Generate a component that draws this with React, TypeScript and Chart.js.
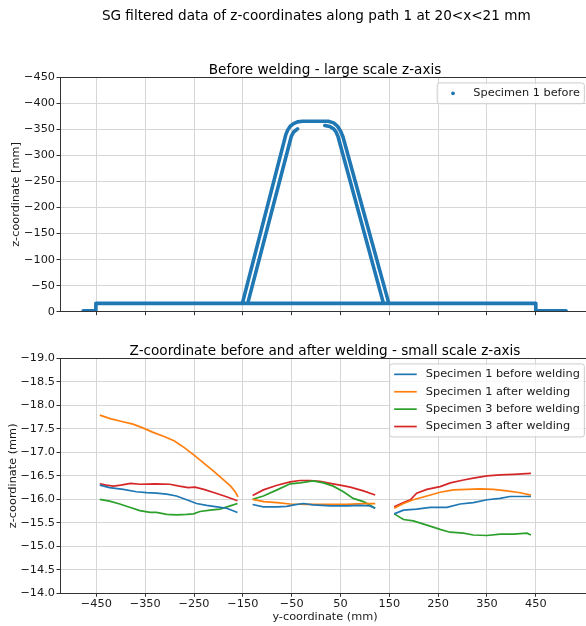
import React, { useEffect, useRef } from 'react';
import { Chart, registerables } from 'chart.js';

Chart.register(...registerables);

type Pt = [number, number];

// ---------------- shared axis values ----------------
const X_MIN = -524.5;
const X_MAX = 561;
const xTickValues = [-450, -350, -250, -150, -50, 50, 150, 250, 350, 450];
const topYMin = -450;
const topYMax = 0;
const topYStep = 50;
const botYMin = -19;
const botYMax = -14;
const botYStep = 0.5;

// ---------------- top plot: Specimen 1 before (large scale) ----------------
const topBaseline: Pt[] = [[-477, -1.9], [-451, -1.9], [-451, -16], [450, -16], [450, -1.9], [512, -1.9]];
const topOuterTrack: Pt[] = [
  [-151, -16], [-62, -340], [-58, -349], [-53, -356], [-46, -361], [-38, -364.5], [-28, -365.5],
  [25, -365.5], [36, -362.5], [44, -356], [50, -347], [55, -336], [149, -16],
];
const topInnerLeft: Pt[] = [[-140, -16], [-51, -336], [-46, -345], [-38, -351]];
const topInnerRight: Pt[] = [[18, -357.5], [28, -355.5], [36, -351], [41, -345], [45, -336], [138, -16]];

// ---------------- bottom plot (small scale) ----------------
const spec1BeforeSeg1: Pt[] = [[-443, -16.30], [-423, -16.25], [-395, -16.21], [-368, -16.16], [-347, -16.14], [-327, -16.13], [-306, -16.11], [-286, -16.07], [-265, -15.99], [-245, -15.91], [-224, -15.87], [-203, -15.84], [-183, -15.81], [-161, -15.72]];
const spec1BeforeSeg2: Pt[] = [[-130, -15.89], [-108, -15.84], [-80, -15.84], [-60, -15.85], [-45, -15.88], [-26, -15.91], [-6, -15.88], [29, -15.86], [63, -15.86], [90, -15.87], [110, -15.86], [121, -15.81]];
const spec1BeforeSeg3: Pt[] = [[160, -15.69], [179, -15.77], [206, -15.79], [234, -15.83], [268, -15.83], [295, -15.90], [322, -15.93], [350, -15.99], [377, -16.02], [397, -16.06], [440, -16.06]];

const spec1AfterSeg1: Pt[] = [[-443, -17.79], [-420, -17.71], [-400, -17.66], [-375, -17.60], [-355, -17.52], [-335, -17.43], [-310, -17.33], [-290, -17.24], [-270, -17.10], [-250, -16.94], [-230, -16.77], [-210, -16.60], [-190, -16.42], [-175, -16.28], [-165, -16.15], [-160, -16.05]];
const spec1AfterSeg2: Pt[] = [[-130, -16.00], [-107, -15.95], [-80, -15.93], [-53, -15.90], [-19, -15.89], [29, -15.89], [63, -15.89], [97, -15.91], [121, -15.91]];
const spec1AfterSeg3: Pt[] = [[160, -15.81], [179, -15.91], [199, -15.99], [227, -16.07], [254, -16.15], [281, -16.20], [309, -16.21], [336, -16.22], [363, -16.21], [391, -16.18], [418, -16.14], [440, -16.09]];

const spec3BeforeSeg1: Pt[] = [[-443, -16.00], [-423, -15.96], [-402, -15.90], [-382, -15.83], [-361, -15.76], [-340, -15.72], [-327, -15.72], [-306, -15.68], [-286, -15.67], [-265, -15.68], [-251, -15.69], [-238, -15.74], [-217, -15.77], [-197, -15.79], [-176, -15.86], [-161, -15.91]];
const spec3BeforeSeg2: Pt[] = [[-130, -16.00], [-108, -16.07], [-80, -16.20], [-53, -16.33], [-33, -16.35], [-6, -16.39], [15, -16.35], [35, -16.28], [56, -16.16], [76, -16.02], [97, -15.95], [110, -15.88], [121, -15.81]];
const spec3BeforeSeg3: Pt[] = [[160, -15.69], [179, -15.57], [199, -15.54], [227, -15.45], [254, -15.36], [274, -15.30], [302, -15.28], [322, -15.24], [350, -15.23], [377, -15.26], [404, -15.26], [432, -15.28], [440, -15.24]];

const spec3AfterSeg1: Pt[] = [[-443, -16.33], [-430, -16.30], [-415, -16.28], [-400, -16.30], [-380, -16.34], [-360, -16.32], [-330, -16.33], [-300, -16.32], [-280, -16.28], [-262, -16.25], [-248, -16.26], [-230, -16.21], [-205, -16.13], [-185, -16.06], [-161, -15.97]];
const spec3AfterSeg2: Pt[] = [[-130, -16.08], [-108, -16.20], [-80, -16.30], [-53, -16.37], [-33, -16.40], [-12, -16.40], [8, -16.38], [29, -16.34], [49, -16.30], [70, -16.26], [97, -16.18], [121, -16.09]];
const spec3AfterSeg3: Pt[] = [[160, -15.84], [179, -15.93], [193, -15.99], [206, -16.13], [227, -16.21], [254, -16.27], [275, -16.35], [302, -16.41], [322, -16.45], [350, -16.50], [377, -16.52], [404, -16.53], [440, -16.55]];

const seriesLabels = ['Specimen 1 before welding', 'Specimen 1 after welding', 'Specimen 3 before welding', 'Specimen 3 after welding'];
const seriesColors = ['#1f77b4', '#ff7f0e', '#2ca02c', '#d62728'];

// ---------------- styling ----------------
const FAMILY = '"DejaVu Sans", sans-serif';
const TICK_SIZE = 11.3;
const TITLE_SIZE = 13.6;
const GRID = '#d6d6d6';
const SPINE = '#333333';
const TEXT = '#1a1a1a';

const fmtMinus = (s: string) => s.replace('-', '\u2212');

function toData(segs: Pt[][]) {
  const out: { x: number | null; y: number | null }[] = [];
  segs.forEach((s, i) => {
    if (i > 0) out.push({ x: null, y: null });
    s.forEach(([x, y]) => out.push({ x, y }));
  });
  return out;
}

type LegendItem = { label: string; color: string; kind: 'line' | 'dot' };

function makeDecor(key: string, title: string, legend: LegendItem[], suptitle?: string) {
  return {
    id: 'decor_' + key,
    afterDraw(chart: any) {
      const { ctx, chartArea: a } = chart;
      ctx.save();
      // spines
      ctx.strokeStyle = SPINE;
      ctx.lineWidth = 1;
      const l = Math.floor(a.left) + 0.5;
      const t = Math.floor(a.top) + 0.5;
      const r = Math.floor(a.right) + 0.5;
      const b = Math.floor(a.bottom) + 0.5;
      ctx.strokeRect(l, t, r - l, b - t);

      // titles
      ctx.fillStyle = '#000';
      ctx.textAlign = 'center';
      ctx.textBaseline = 'alphabetic';
      ctx.font = `${TITLE_SIZE}px ${FAMILY}`;
      ctx.fillText(title, (a.left + a.right) / 2, a.top - 3.4);
      if (suptitle) ctx.fillText(suptitle, 316.3, 20.3);

      // legend
      const fs = TICK_SIZE;
      ctx.font = `${fs}px ${FAMILY}`;
      const pad = 0.4 * fs;
      const handle = 2 * fs;
      const htp = 0.8 * fs;
      const rowH = 11.75;
      const spacing = 0.5 * fs;
      const textW = Math.max(...legend.map((it) => ctx.measureText(it.label).width));
      const w = pad + handle + htp + textW + pad;
      const h = 2 * pad + legend.length * rowH + (legend.length - 1) * spacing;
      const right = a.right - 0.5 * fs;
      const left = right - w;
      const top = a.top + 0.5 * fs;
      ctx.beginPath();
      const rad = 2.5;
      ctx.moveTo(left + rad, top);
      ctx.lineTo(left + w - rad, top);
      ctx.arcTo(left + w, top, left + w, top + rad, rad);
      ctx.lineTo(left + w, top + h - rad);
      ctx.arcTo(left + w, top + h, left + w - rad, top + h, rad);
      ctx.lineTo(left + rad, top + h);
      ctx.arcTo(left, top + h, left, top + h - rad, rad);
      ctx.lineTo(left, top + rad);
      ctx.arcTo(left, top, left + rad, top, rad);
      ctx.closePath();
      ctx.fillStyle = 'rgba(255,255,255,0.8)';
      ctx.fill();
      ctx.strokeStyle = '#cccccc';
      ctx.lineWidth = 1;
      ctx.stroke();

      legend.forEach((it, i) => {
        const cy = top + pad + rowH / 2 + i * (rowH + spacing);
        const hx = left + pad;
        if (it.kind === 'line') {
          ctx.strokeStyle = it.color;
          ctx.lineWidth = 1.7;
          ctx.beginPath();
          ctx.moveTo(hx, cy);
          ctx.lineTo(hx + handle, cy);
          ctx.stroke();
        } else {
          ctx.fillStyle = it.color;
          ctx.beginPath();
          ctx.arc(hx + handle / 2, cy, 1.9, 0, Math.PI * 2);
          ctx.fill();
        }
        ctx.fillStyle = TEXT;
        ctx.textAlign = 'left';
        ctx.textBaseline = 'middle';
        ctx.fillText(it.label, hx + handle + htp, cy);
      });
      ctx.restore();
    },
  };
}

const tickFont = { family: FAMILY, size: TICK_SIZE };

function xScale(showLabels: boolean, height: number, titleText?: string) {
  return {
    type: 'linear',
    min: X_MIN,
    max: X_MAX,
    afterBuildTicks: (s: any) => {
      s.ticks = xTickValues.map((v) => ({ value: v }));
    },
    afterFit: (s: any) => {
      s.height = height;
    },
    ticks: {
      display: showLabels,
      autoSkip: false,
      maxRotation: 0,
      minRotation: 0,
      font: tickFont,
      color: TEXT,
      padding: 0,
      callback: (v: number) => fmtMinus(String(v)),
    },
    grid: { color: GRID, lineWidth: 1, tickColor: SPINE, tickLength: 3.5, drawTicks: true },
    border: { display: false },
    title: titleText
      ? { display: true, text: titleText, font: tickFont, color: TEXT, padding: { top: 0, bottom: 2 } }
      : { display: false },
  };
}

function yScale(min: number, max: number, step: number, digits: number, titleText: string, titlePad: number) {
  return {
    type: 'linear',
    reverse: true,
    min,
    max,
    afterFit: (s: any) => {
      s.width = 60;
    },
    ticks: {
      stepSize: step,
      autoSkip: false,
      font: tickFont,
      color: TEXT,
      padding: 1.5,
      callback: (v: number) => fmtMinus(v === 0 ? '0' : v.toFixed(digits)),
    },
    grid: { color: GRID, lineWidth: 1, tickColor: SPINE, tickLength: 3.5, drawTicks: true },
    border: { display: false },
    title: { display: true, text: titleText, font: tickFont, color: TEXT, padding: { top: titlePad, bottom: 0 } },
  };
}

export default function App() {
  const topRef = useRef<HTMLCanvasElement>(null);
  const botRef = useRef<HTMLCanvasElement>(null);

  useEffect(() => {
    const common = {
      responsive: false,
      animation: false,
      events: [],
    };

    const topChart = new Chart(topRef.current as HTMLCanvasElement, {
      type: 'scatter',
      data: {
        datasets: [
          {
            label: 'Specimen 1 before',
            data: toData([topBaseline, topOuterTrack, topInnerLeft, topInnerRight]),
            showLine: true,
            borderColor: '#1f77b4',
            backgroundColor: '#1f77b4',
            borderWidth: 3.6,
            borderCapStyle: 'round',
            borderJoinStyle: 'round',
            pointRadius: 0,
            pointHoverRadius: 0,
            spanGaps: false,
          },
        ],
      },
      options: {
        ...common,
        layout: { padding: { top: 77.3, left: 0, right: 10, bottom: 0 } },
        plugins: { legend: { display: false }, title: { display: false }, tooltip: { enabled: false } },
        scales: {
          x: xScale(false, 18.3),
          y: yScale(topYMin, topYMax, topYStep, 0, 'z-coordinate [mm]', 9.7),
        },
      } as any,
      plugins: [
        makeDecor(
          'top',
          'Before welding - large scale z-axis',
          [{ label: 'Specimen 1 before', color: '#1f77b4', kind: 'dot' }],
          'SG filtered data of z-coordinates along path 1 at 20<x<21 mm'
        ),
      ],
    } as any);

    const bottomSeries: Pt[][][] = [
      [spec1BeforeSeg1, spec1BeforeSeg2, spec1BeforeSeg3],
      [spec1AfterSeg1, spec1AfterSeg2, spec1AfterSeg3],
      [spec3BeforeSeg1, spec3BeforeSeg2, spec3BeforeSeg3],
      [spec3AfterSeg1, spec3AfterSeg2, spec3AfterSeg3],
    ];

    const botChart = new Chart(botRef.current as HTMLCanvasElement, {
      type: 'scatter',
      data: {
        datasets: bottomSeries.map((segs, i) => ({
          label: seriesLabels[i],
          data: toData(segs),
          showLine: true,
          borderColor: seriesColors[i],
          backgroundColor: seriesColors[i],
          borderWidth: 1.7,
          pointRadius: 0,
          pointHoverRadius: 0,
          spanGaps: false,
        })),
      },
      options: {
        ...common,
        layout: { padding: { top: 28.3, left: 0, right: 10, bottom: 0 } },
        plugins: { legend: { display: false }, title: { display: false }, tooltip: { enabled: false } },
        scales: {
          x: xScale(true, 32.7, 'y-coordinate (mm)'),
          y: yScale(botYMin, botYMax, botYStep, 1, 'z-coordinate (mm)', 6),
        },
      } as any,
      plugins: [
        makeDecor(
          'bottom',
          'Z-coordinate before and after welding - small scale z-axis',
          seriesLabels.map((label, i) => ({ label, color: seriesColors[i], kind: 'line' as const }))
        ),
      ],
    } as any);

    return () => {
      topChart.destroy();
      botChart.destroy();
    };
  }, []);

  return (
    <div
      style={{
        position: 'fixed',
        left: 0,
        top: 0,
        width: 586,
        height: 626,
        overflow: 'hidden',
        background: '#ffffff',
      }}
    >
      <div style={{ position: 'absolute', left: 0, top: 0, width: 600, height: 330 }}>
        <canvas ref={topRef} width={600} height={330} style={{ width: 600, height: 330, display: 'block' }} />
      </div>
      <div style={{ position: 'absolute', left: 0, top: 330, width: 600, height: 296 }}>
        <canvas ref={botRef} width={600} height={296} style={{ width: 600, height: 296, display: 'block' }} />
      </div>
    </div>
  );
}
